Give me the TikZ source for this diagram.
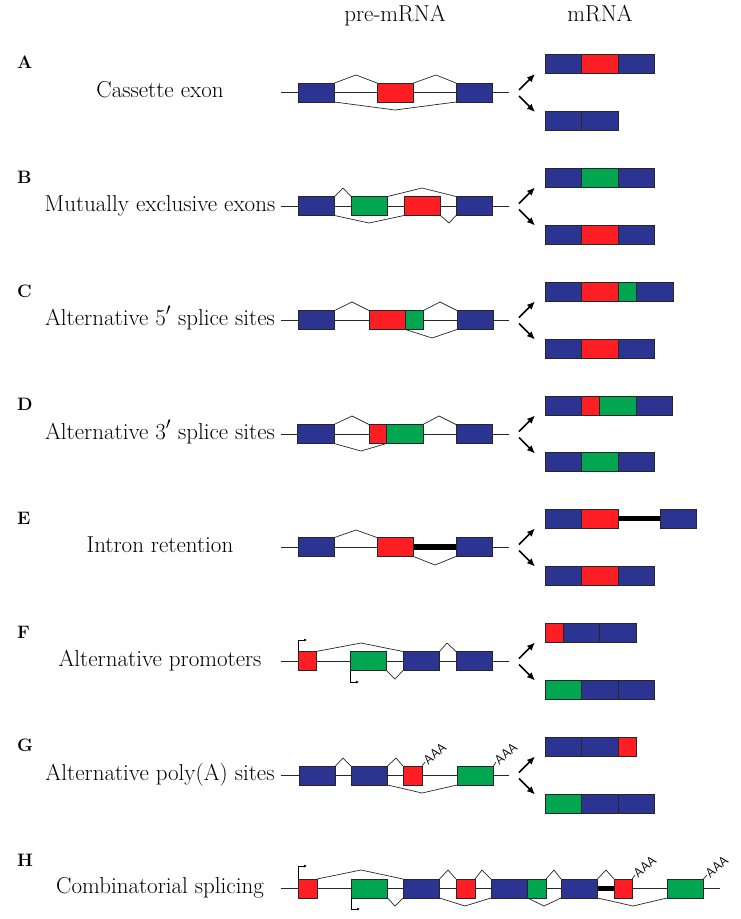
\documentclass[tikz,border=0pt]{standalone}
\usepackage{tikz}
\usetikzlibrary{positioning,arrows.meta}
\definecolor{eblue}{RGB}{44,52,146}
\definecolor{ered}{RGB}{255,30,36}
\definecolor{egreen}{RGB}{0,166,80}

\begin{document}
\begin{tikzpicture}[x=1pt, y=-1pt,
  exon/.style = {draw=black!85, line width=0.7pt, rectangle, inner sep=0pt, outer sep=0pt,
                 minimum height=19pt, minimum width=36.5pt, anchor=west},
  bexon/.style = {exon, fill=eblue},
  rexon/.style = {exon, fill=ered},
  gexon/.style = {exon, fill=egreen},
  intron/.style = {line width=0.7pt, black!85},
  splice/.style = {line width=0.7pt, black!85},
  retained/.style = {line width=5.5pt, black},
  fork/.style = {line width=1.7pt, -{Latex[length=8pt,width=7pt]}},
  prom/.style = {line width=0.7pt, -{Latex[length=3pt,width=3pt]}},
  polya/.style = {font=\sffamily\fontsize{13}{13}\selectfont, inner sep=0pt, anchor=west, rotate=40},
  title/.style = {font=\fontsize{23}{27}\selectfont, inner sep=0pt, anchor=base},
  letter/.style = {font=\fontsize{18}{21}\selectfont\bfseries, inner sep=0pt, anchor=base west}]
  \useasboundingbox (0,0) rectangle (741,919);

  % headers
  \node[title] (pre) at (395,21) {pre-mRNA};
  \node[title] (mat) at (600,21) {mRNA};

  % A
  \node[letter] (lA) at (17,68.5) {A};
  \node[title] (tA) at (160,97.5) {Cassette exon};
  \coordinate (a0) at (281,92.5);
  \coordinate (a9) at (509,92.5);
  \draw[intron] (a0) -- (a9);
  \node[bexon] (a1) at (298,92.5) {};
  \node[rexon] (a2) at (377,92.5) {};
  \node[bexon] (a3) at (456,92.5) {};
  \draw[splice] (a1.north east) -- (356,75) -- (a2.north west);
  \draw[splice] (a2.north east) -- (436,75) -- (a3.north west);
  \draw[splice] (a1.south east) -- (395,110) -- (a3.south west);
  \coordinate (aU) at (519,90);
  \coordinate (aD) at (519,96);
  \draw[fork] (aU) -- ++(16,-16);
  \draw[fork] (aD) -- ++(16,16);
  \node[bexon] (a11) at (545,64) {};
  \node[rexon, right=0pt of a11] (a12) {};
  \node[bexon, right=0pt of a12] (a13) {};
  \node[bexon] (a21) at (545,120.5) {};
  \node[bexon, right=0pt of a21] (a22) {};

  % B
  \node[letter] (lB) at (17,183) {B};
  \node[title] (tB) at (160,211) {Mutually exclusive exons};
  \coordinate (b0) at (281,206);
  \coordinate (b9) at (509,206);
  \draw[intron] (b0) -- (b9);
  \node[bexon] (b1) at (298,206) {};
  \node[gexon] (b2) at (351,206) {};
  \node[rexon] (b3) at (404,206) {};
  \node[bexon] (b4) at (456,206) {};
  \draw[splice] (b1.north east) -- (343,188) -- (b2.north west);
  \draw[splice] (b2.north east) -- (422,188) -- (b4.north west);
  \draw[splice] (b1.south east) -- (369,223) -- (b3.south west);
  \draw[splice] (b3.south east) -- (449,223) -- (b4.south west);
  \coordinate (bU) at (519,203.5);
  \coordinate (bD) at (519,209.5);
  \draw[fork] (bU) -- ++(16,-16);
  \draw[fork] (bD) -- ++(16,16);
  \node[bexon] (b11) at (545,177.5) {};
  \node[gexon, right=0pt of b11] (b12) {};
  \node[bexon, right=0pt of b12] (b13) {};
  \node[bexon] (b21) at (545,234.5) {};
  \node[rexon, right=0pt of b21] (b22) {};
  \node[bexon, right=0pt of b22] (b23) {};

  % C
  \node[letter] (lC) at (17,297) {C};
  \node[title] (tC) at (160,325) {Alternative 5$'$ splice sites};
  \coordinate (c0) at (281,320);
  \coordinate (c9) at (509,320);
  \draw[intron] (c0) -- (c9);
  \node[bexon] (c1) at (298,320) {};
  \node[rexon] (c2) at (369,320) {};
  \node[gexon, right=0pt of c2, minimum width=18pt] (c3) {};
  \node[bexon] (c4) at (457,320) {};
  \draw[splice] (c1.north east) -- (352,302) -- (c2.north west);
  \draw[splice] (c3.north east) -- (440,302) -- (c4.north west);
  \draw[splice] (c2.south east) -- (432,338) -- (c4.south west);
  \coordinate (cU) at (519,317.5);
  \coordinate (cD) at (519,323.5);
  \draw[fork] (cU) -- ++(16,-16);
  \draw[fork] (cD) -- ++(16,16);
  \node[bexon] (c11) at (545,292) {};
  \node[rexon, right=0pt of c11] (c12) {};
  \node[gexon, right=0pt of c12, minimum width=18.5pt] (c13) {};
  \node[bexon, right=0pt of c13] (c14) {};
  \node[bexon] (c21) at (545,348.5) {};
  \node[rexon, right=0pt of c21] (c22) {};
  \node[bexon, right=0pt of c22] (c23) {};

  % D
  \node[letter] (lD) at (17,410) {D};
  \node[title] (tD) at (160,439) {Alternative 3$'$ splice sites};
  \coordinate (d0) at (281,434);
  \coordinate (d9) at (509,434);
  \draw[intron] (d0) -- (d9);
  \node[bexon] (d1) at (297.5,434) {};
  \node[rexon, minimum width=17.5pt] (d2) at (369,434) {};
  \node[gexon, right=0pt of d2] (d3) {};
  \node[bexon] (d4) at (456,434) {};
  \draw[splice] (d1.north east) -- (352,416) -- (d2.north west);
  \draw[splice] (d3.north east) -- (439,416) -- (d4.north west);
  \draw[splice] (d1.south east) -- (361,451) -- (d3.south west);
  \coordinate (dU) at (519,431.5);
  \coordinate (dD) at (519,437.5);
  \draw[fork] (dU) -- ++(16,-16);
  \draw[fork] (dD) -- ++(16,16);
  \node[bexon] (d11) at (545,405.5) {};
  \node[rexon, right=0pt of d11, minimum width=18pt] (d12) {};
  \node[gexon, right=0pt of d12] (d13) {};
  \node[bexon, right=0pt of d13] (d14) {};
  \node[bexon] (d21) at (545,462) {};
  \node[gexon, right=0pt of d21] (d22) {};
  \node[bexon, right=0pt of d22] (d23) {};

  % E
  \node[letter] (lE) at (17,524) {E};
  \node[title] (tE) at (160,552) {Intron retention};
  \coordinate (e0) at (281,547);
  \coordinate (e9) at (509,547);
  \draw[intron] (e0) -- (e9);
  \node[bexon] (e1) at (298,547) {};
  \node[rexon] (e2) at (377,547) {};
  \node[bexon] (e3) at (456,547) {};
  \draw[retained] (e2.east) -- (e3.west);
  \draw[splice] (e1.north east) -- (356,530) -- (e2.north west);
  \draw[splice] (e2.south east) -- (435,565) -- (e3.south west);
  \coordinate (eU) at (519,544.5);
  \coordinate (eD) at (519,550.5);
  \draw[fork] (eU) -- ++(16,-16);
  \draw[fork] (eD) -- ++(16,16);
  \node[bexon] (e11) at (545,518.5) {};
  \node[rexon, right=0pt of e11] (e12) {};
  \node[bexon, right=42pt of e12] (e13) {};
  \draw[retained] (e12.east) -- (e13.west);
  \node[bexon] (e21) at (545,575.5) {};
  \node[rexon, right=0pt of e21] (e22) {};
  \node[bexon, right=0pt of e22] (e23) {};

  % F
  \node[letter] (lF) at (17,638) {F};
  \node[title] (tF) at (160,666) {Alternative promoters};
  \coordinate (f0) at (281,661);
  \coordinate (f9) at (509,661);
  \draw[intron] (f0) -- (f9);
  \node[rexon, minimum width=18pt] (f1) at (298,661) {};
  \node[gexon] (f2) at (350,661) {};
  \node[bexon] (f3) at (403,661) {};
  \node[bexon] (f4) at (456,661) {};
  \coordinate (fP1) at (307,640);
  \coordinate (fP2) at (359,682);
  \draw[prom] (f1.north west) |- (fP1);
  \draw[prom] (f2.south west) |- (fP2);
  \draw[splice] (f1.north east) -- (361,643) -- (f3.north west);
  \draw[splice] (f2.south east) -- (395,679) -- (f3.south west);
  \draw[splice] (f3.north east) -- (447,643) -- (f4.north west);
  \coordinate (fU) at (519,658.5);
  \coordinate (fD) at (519,664.5);
  \draw[fork] (fU) -- ++(16,-16);
  \draw[fork] (fD) -- ++(16,16);
  \node[rexon, minimum width=18pt] (f11) at (545,632.5) {};
  \node[bexon, right=0pt of f11] (f12) {};
  \node[bexon, right=0pt of f12] (f13) {};
  \node[gexon] (f21) at (545,689.5) {};
  \node[bexon, right=0pt of f21] (f22) {};
  \node[bexon, right=0pt of f22] (f23) {};

  % G
  \node[letter] (lG) at (17,751) {G};
  \node[title] (tG) at (160,780) {Alternative poly(A) sites};
  \coordinate (g0) at (281,775.5);
  \coordinate (g9) at (509,775.5);
  \draw[intron] (g0) -- (g9);
  \node[bexon] (g1) at (299,775.5) {};
  \node[bexon] (g2) at (351,775.5) {};
  \node[rexon, minimum width=19pt] (g3) at (403,775.5) {};
  \node[gexon] (g4) at (457,775.5) {};
  \draw[splice] (g1.north east) -- (343,758) -- (g2.north west);
  \draw[splice] (g2.north east) -- (396,758) -- (g3.north west);
  \draw[splice] (g2.south east) -- (422,793) -- (g4.south west);
  \node[polya] (gA1) at (425,762) {AAA};
  \node[polya] (gA2) at (496,762) {AAA};
  \draw[splice] (g3.north east) -- (gA1.west);
  \draw[splice] (g4.north east) -- (gA2.west);
  \coordinate (gU) at (519,772.5);
  \coordinate (gD) at (519,778.5);
  \draw[fork] (gU) -- ++(16,-16);
  \draw[fork] (gD) -- ++(16,16);
  \node[bexon] (g11) at (545,747) {};
  \node[bexon, right=0pt of g11] (g12) {};
  \node[rexon, right=0pt of g12, minimum width=18pt] (g13) {};
  \node[gexon] (g21) at (545,803.5) {};
  \node[bexon, right=0pt of g21] (g22) {};
  \node[bexon, right=0pt of g22] (g23) {};

  % H
  \node[letter] (lH) at (17,866) {H};
  \node[title] (tH) at (160,893) {Combinatorial splicing};
  \coordinate (h0) at (281,888.5);
  \coordinate (h9) at (720,888.5);
  \draw[intron] (h0) -- (h9);
  \node[rexon, minimum width=19pt] (h1) at (298,888.5) {};
  \node[gexon] (h2) at (351,888.5) {};
  \node[bexon] (h3) at (403,888.5) {};
  \node[rexon, minimum width=19pt] (h4) at (456,888.5) {};
  \node[bexon] (h5) at (491,888.5) {};
  \node[gexon, right=0pt of h5, minimum width=18.5pt] (h6) {};
  \node[bexon] (h7) at (561,888.5) {};
  \node[rexon, minimum width=18pt] (h8) at (614,888.5) {};
  \node[gexon] (h9g) at (667,888.5) {};
  \draw[retained] (h7.east) -- (h8.west);
  \coordinate (hP1) at (307,866);
  \coordinate (hP2) at (360,909);
  \draw[prom] (h1.north west) |- (hP1);
  \draw[prom] (h2.south west) |- (hP2);
  \draw[splice] (h1.north east) -- (361,870) -- (h3.north west);
  \draw[splice] (h2.south east) -- (395,906) -- (h3.south west);
  \draw[splice] (h3.north east) -- (448,870) -- (h4.north west);
  \draw[splice] (h4.north east) -- (482,870) -- (h5.north west);
  \draw[splice] (h3.south east) -- (465,906) -- (h5.south west);
  \draw[splice] (h6.north east) -- (554,870) -- (h7.north west);
  \draw[splice] (h5.south east) -- (544,906) -- (h7.south west);
  \draw[splice] (h7.north east) -- (606,870) -- (h8.north west);
  \draw[splice] (h7.south east) -- (633,906) -- (h9g.south west);
  \node[polya] (hA1) at (635,875) {AAA};
  \node[polya] (hA2) at (707,875) {AAA};
  \draw[splice] (h8.north east) -- (hA1.west);
  \draw[splice] (h9g.north east) -- (hA2.west);
\end{tikzpicture}
\end{document}
